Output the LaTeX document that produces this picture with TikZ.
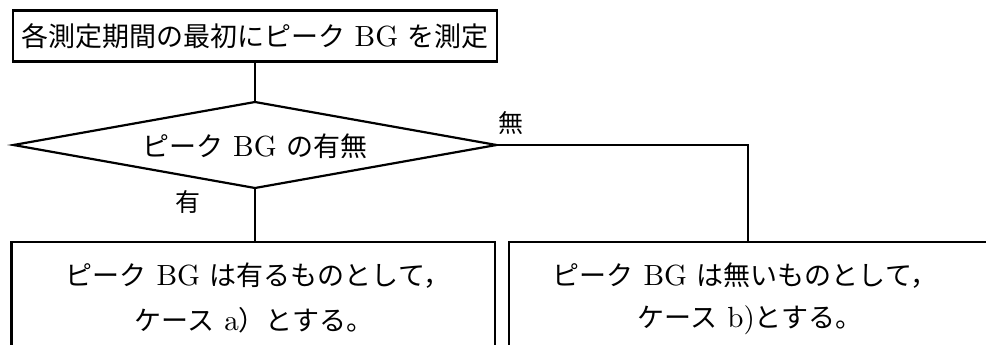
\documentclass[tikz,border=0pt]{standalone}
\usepackage{fontspec}
\setmainfont{lmroman10-regular}[Extension=.otf,Scale=1.08]
\newfontfamily\cjk{Noto Sans CJK JP}
\usetikzlibrary{shapes.geometric}
\newcommand\J[1]{{\cjk #1}}
\begin{document}
\begin{tikzpicture}[x=1pt,y=-1pt,
  lw/.style={line width=2.2pt},
  box/.style={draw,lw,inner sep=0pt,outer sep=0pt},
  txt/.style={inner sep=0pt,font=\fontsize{27}{33}\selectfont},
  lbl/.style={inner sep=0pt,font=\fontsize{25}{30}\selectfont}]
\useasboundingbox (0,0) rectangle (986,345);
% top box
\node[box,txt,minimum width=484pt,minimum height=51pt] (top) at (255,36) {\J{各測定期間の最初にピーク} BG \J{を測定}};
% decision
\node[draw,lw,diamond,aspect=5.6,inner sep=0pt,outer sep=0pt,minimum width=483pt,minimum height=86pt] (dia) at (255,145) {};
\node[txt] (diat) at (255,146) {\J{ピーク} BG \J{の有無}};
% result boxes (cut off at the bottom)
\node[box,minimum width=483.5pt,minimum height=130pt,anchor=north] (lbox) at (253.25,242) {};
\node[box,minimum width=478pt,minimum height=130pt,anchor=north] (rbox) at (748,242) {};
% connectors
\draw[lw] (top.south) -- (dia.north);
\draw[lw] (dia.south) -- (dia.south |- lbox.north);
\draw[lw] (dia.east) -| (rbox.north);
% labels
\node[lbl] (nashi) at (511,123) {\J{無}};
\node[lbl] (ari) at (188,202) {\J{有}};
% texts
\node[txt] (l1) at (258,276) {\J{ピーク} BG \J{は有るものとして，}};
\node[txt] (l2) at (254,320) {\J{ケース} a\J{）とする。}};
\node[txt] (r1) at (745,276) {\J{ピーク} BG \J{は無いものとして，}};
\node[txt] (r2) at (750,320) {\J{ケース} b)\J{とする。}};
\end{tikzpicture}
\end{document}
